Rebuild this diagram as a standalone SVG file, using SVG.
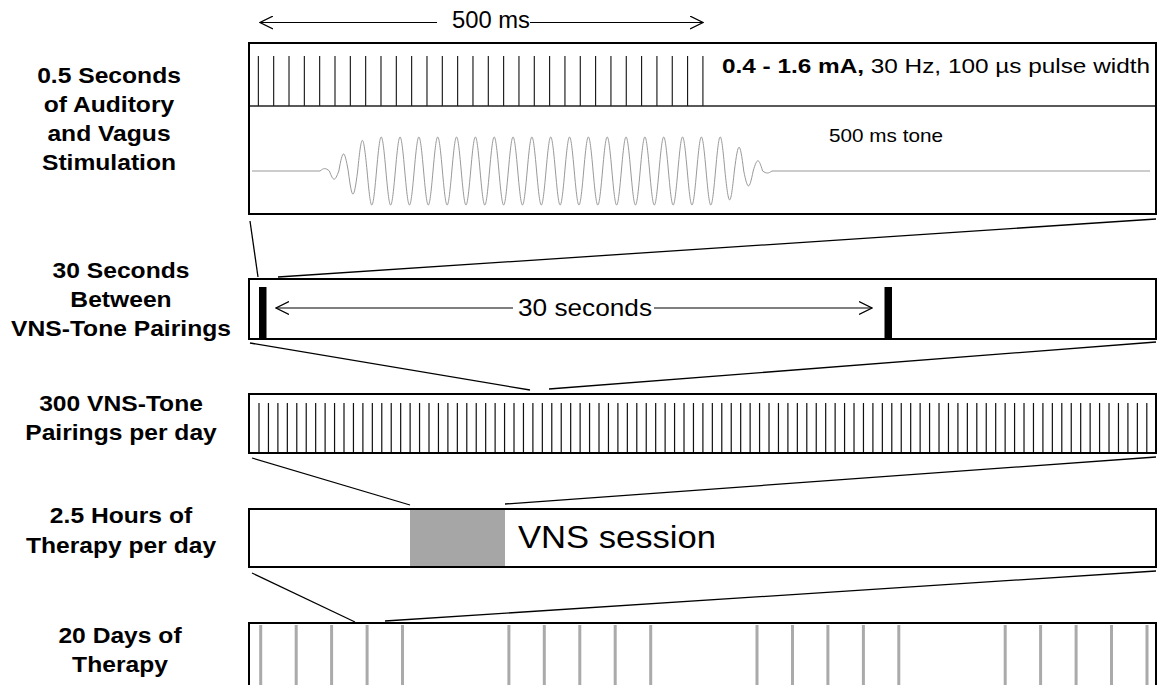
<svg xmlns="http://www.w3.org/2000/svg" width="1158" height="685" viewBox="0 0 1158 685">
<style>
.lbl{font-family:"Liberation Sans",Arial,Helvetica,sans-serif;font-weight:bold;font-size:22px;text-anchor:middle;fill:#000}
.txt{font-family:"Liberation Sans",Arial,Helvetica,sans-serif;fill:#000}
.box{fill:none;stroke:#000;stroke-width:2}
.conn{stroke:#000;stroke-width:1.3;fill:none}
.arr{stroke:#000;stroke-width:1.2;fill:none}
</style>
<defs>
<marker id="chev" viewBox="0 0 14 14" refX="13" refY="7" markerWidth="14" markerHeight="14" markerUnits="userSpaceOnUse" orient="auto-start-reverse">
<path d="M0,0.5 L13,7 L0,13.5" fill="none" stroke="#000" stroke-width="1.2"/>
</marker>
</defs>
<rect width="1158" height="685" fill="#fff"/>

<g id="connectors">
<line class="conn" x1="250" y1="221" x2="258" y2="277"/>
<line class="conn" x1="278" y1="277" x2="1156" y2="219"/>
<line class="conn" x1="250" y1="343" x2="530" y2="390"/>
<line class="conn" x1="549" y1="389" x2="1156" y2="342"/>
<line class="conn" x1="252" y1="458" x2="410" y2="505"/>
<line class="conn" x1="505" y1="504" x2="1156" y2="457"/>
<line class="conn" x1="252" y1="573" x2="355" y2="622"/>
<line class="conn" x1="385" y1="621" x2="1156" y2="571"/>
</g>

<g id="stimulation">
<g transform="translate(109 0) scale(1.12 1)">
<text class="lbl" x="0" y="83">0.5 Seconds</text>
<text class="lbl" x="0" y="112">of Auditory</text>
<text class="lbl" x="0" y="141">and Vagus</text>
<text class="lbl" x="0" y="170">Stimulation</text>
</g>
<line class="arr" x1="437" y1="22.5" x2="260" y2="22.5" marker-end="url(#chev)"/>
<line class="arr" x1="530" y1="22.5" x2="703" y2="22.5" marker-end="url(#chev)"/>
<text class="txt" x="452" y="28" font-size="23" textLength="78" lengthAdjust="spacingAndGlyphs">500 ms</text>
<line x1="257.8" y1="81" x2="704" y2="81" stroke="#111" stroke-width="50" stroke-dasharray="1.1 14.23"/>
<line x1="249" y1="106" x2="1156" y2="106" stroke="#222" stroke-width="1.5"/>
<text class="txt" x="722" y="73" font-size="21" textLength="428" lengthAdjust="spacingAndGlyphs"><tspan font-weight="bold">0.4 - 1.6 mA,</tspan> 30 Hz, 100 µs pulse width</text>
<path d="M252,171 H320 c4,-3.2 5.42,-3.2 9.417,0 c4,10.9 5.42,10.9 9.417,0 c4,-22.7 5.42,-22.7 9.417,0 c4,30.8 5.42,30.8 9.417,0 c4,-40.8 5.42,-40.8 9.417,0 c4,45.33 5.42,45.33 9.417,0 c4,-45.33 5.42,-45.33 9.417,0 c4,45.33 5.42,45.33 9.417,0 c4,-45.33 5.42,-45.33 9.417,0 c4,45.33 5.42,45.33 9.417,0 c4,-45.33 5.42,-45.33 9.417,0 c4,45.33 5.42,45.33 9.417,0 c4,-45.33 5.42,-45.33 9.417,0 c4,45.33 5.42,45.33 9.417,0 c4,-45.33 5.42,-45.33 9.417,0 c4,45.33 5.42,45.33 9.417,0 c4,-45.33 5.42,-45.33 9.417,0 c4,45.33 5.42,45.33 9.417,0 c4,-45.33 5.42,-45.33 9.417,0 c4,45.33 5.42,45.33 9.417,0 c4,-45.33 5.42,-45.33 9.417,0 c4,45.33 5.42,45.33 9.417,0 c4,-45.33 5.42,-45.33 9.417,0 c4,45.33 5.42,45.33 9.417,0 c4,-45.33 5.42,-45.33 9.417,0 c4,45.33 5.42,45.33 9.417,0 c4,-45.33 5.42,-45.33 9.417,0 c4,45.33 5.42,45.33 9.417,0 c4,-45.33 5.42,-45.33 9.417,0 c4,45.33 5.42,45.33 9.417,0 c4,-45.33 5.42,-45.33 9.417,0 c4,45.33 5.42,45.33 9.417,0 c4,-45.33 5.42,-45.33 9.417,0 c4,45.33 5.42,45.33 9.417,0 c4,-45.33 5.42,-45.33 9.417,0 c4,45.33 5.42,45.33 9.417,0 c4,-45.33 5.42,-45.33 9.417,0 c4,45.33 5.42,45.33 9.417,0 c4,-45.33 5.42,-45.33 9.417,0 c4,45.33 5.42,45.33 9.417,0 c4,-45.33 5.42,-45.33 9.417,0 c4,45.33 5.42,45.33 9.417,0 c4,-45.33 5.42,-45.33 9.417,0 c4,38.5 5.42,38.5 9.417,0 c4,-31.7 5.42,-31.7 9.417,0 c4,19.9 5.42,19.9 9.417,0 c4,-13.6 5.42,-13.6 9.417,0 c4,2.7 5.42,2.7 9.417,0 H1150" fill="none" stroke="#999" stroke-width="1"/>
<text class="txt" x="829" y="142" font-size="18.5" textLength="114" lengthAdjust="spacingAndGlyphs">500 ms tone</text>
<rect class="box" x="249" y="43" width="907" height="171"/>
</g>

<g id="between-pairings">
<g transform="translate(121 0) scale(1.12 1)">
<text class="lbl" x="0" y="278">30 Seconds</text>
<text class="lbl" x="0" y="307">Between</text>
<text class="lbl" x="0" y="336">VNS-Tone Pairings</text>
</g>
<rect class="box" x="249" y="279" width="907" height="60"/>
<rect x="259" y="287" width="7.5" height="52" fill="#000"/>
<rect x="884.5" y="287" width="7.5" height="52" fill="#000"/>
<line class="arr" x1="513" y1="308" x2="276" y2="308" marker-end="url(#chev)"/>
<line class="arr" x1="654" y1="308" x2="872" y2="308" marker-end="url(#chev)"/>
<text class="txt" x="518" y="316" font-size="24.5" textLength="134" lengthAdjust="spacingAndGlyphs">30 seconds</text>
</g>

<g id="pairings-per-day">
<g transform="translate(121 0) scale(1.12 1)">
<text class="lbl" x="0" y="411">300 VNS-Tone</text>
<text class="lbl" x="0" y="440">Pairings per day</text>
</g>
<line x1="258.4" y1="428" x2="1148" y2="428" stroke="#111" stroke-width="50" stroke-dasharray="1.2 8.2447"/>
<rect class="box" x="249" y="394" width="907" height="59"/>
</g>

<g id="therapy-per-day">
<g transform="translate(121 0) scale(1.12 1)">
<text class="lbl" x="0" y="523">2.5 Hours of</text>
<text class="lbl" x="0" y="553">Therapy per day</text>
</g>
<rect x="410" y="509" width="95" height="58" fill="#a6a6a6"/>
<rect class="box" x="249" y="509" width="907" height="58"/>
<text class="txt" x="518" y="548" font-size="32" textLength="198" lengthAdjust="spacingAndGlyphs">VNS session</text>
</g>

<g id="days-of-therapy">
<g transform="translate(120 0) scale(1.12 1)">
<text class="lbl" x="0" y="643">20 Days of</text>
<text class="lbl" x="0" y="672">Therapy</text>
</g>
<path d="M260.7,625V686M296.2,625V686M331.6,625V686M367.1,625V686M402.5,625V686M508.9,625V686M544.3,625V686M579.8,625V686M615.2,625V686M650.7,625V686M757,625V686M792.5,625V686M827.9,625V686M863.4,625V686M898.8,625V686M1005.2,625V686M1040.6,625V686M1076.1,625V686M1111.5,625V686M1147,625V686" stroke="#aaa" stroke-width="3" fill="none"/>
<rect class="box" x="249" y="623" width="907" height="80"/>
</g>
</svg>
